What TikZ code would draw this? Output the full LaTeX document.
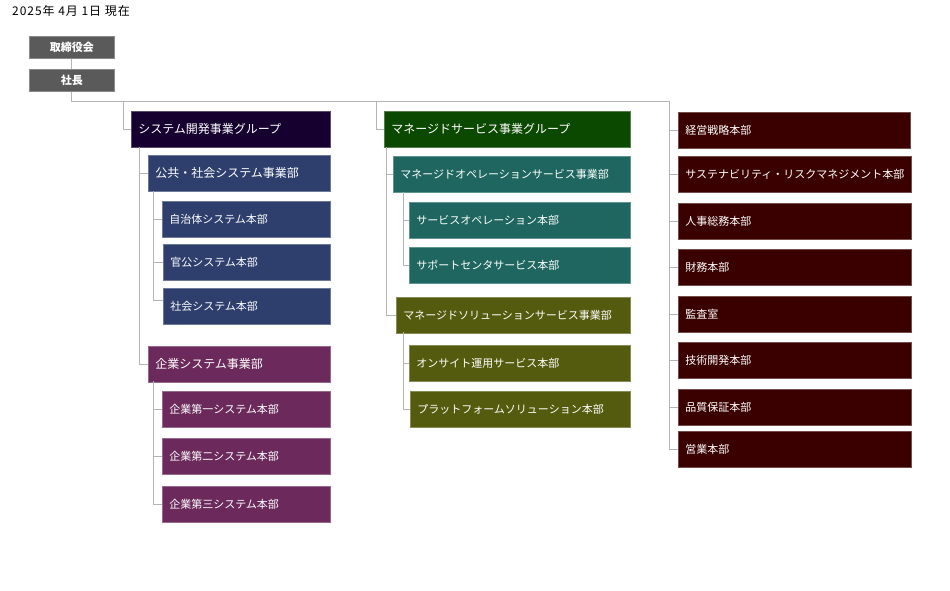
\documentclass[tikz,border=0pt]{standalone}
\usepackage{fontspec}
\setmainfont{Noto Sans CJK JP}
\definecolor{cgray}{HTML}{5A5A5A}
\definecolor{cgA}{HTML}{15002F}
\definecolor{cblue}{HTML}{2E3F6E}
\definecolor{cpurp}{HTML}{6B2A5B}
\definecolor{cgreen}{HTML}{0B4800}
\definecolor{cteal}{HTML}{1E665F}
\definecolor{colive}{HTML}{545B0E}
\definecolor{cred}{HTML}{3A0000}
\definecolor{cline}{HTML}{B4B4B4}
\tikzset{
  box/.style 2 args={anchor=north west, fill=#2, draw=#2!70!white, line width=0.6pt,
    text=white, minimum height=36pt, inner xsep=7pt, inner ysep=0pt,
    text width=#1, align=left},
  topbox/.style={anchor=north west, fill=cgray, draw=cgray!70!white, line width=0.6pt,
    text=white, minimum width=85pt, minimum height=22pt, inner sep=0pt,
    font=\bfseries\fontsize{11}{13}\selectfont},
  conn/.style={draw=cline, line width=1pt},
  fl/.style={font=\fontsize{12}{14}\selectfont},
  fs/.style={font=\fontsize{11}{13}\selectfont},
}
\begin{document}
\begin{tikzpicture}[x=1pt,y=-1pt]
\useasboundingbox (0,0) rectangle (950,591);
\node[anchor=north west, inner sep=0pt, font=\fontsize{12}{14}\selectfont\addfontfeature{LetterSpace=8}] (date) at (12,5.5) {2025年 4月 1日 現在};
% top
\node[topbox] (board) at (29,36) {取締役会};
\node[topbox] (pres) at (29,69) {社長};
% groups
\node[box={185pt}{cgA},fl] (g1) at (131,111) {システム開発事業グループ};
\node[box={168pt}{cblue},fl] (d1) at (148,155) {公共・社会システム事業部};
\node[box={154pt}{cblue},fs] (d1a) at (162,201) {自治体システム本部};
\node[box={153pt}{cblue},fs] (d1b) at (163,244) {官公システム本部};
\node[box={153pt}{cblue},fs] (d1c) at (163,288) {社会システム本部};
\node[box={168pt}{cpurp},fl] (d2) at (148,346) {企業システム事業部};
\node[box={154pt}{cpurp},fs] (d2a) at (162,391) {企業第一システム本部};
\node[box={154pt}{cpurp},fs] (d2b) at (162,438) {企業第二システム本部};
\node[box={154pt}{cpurp},fs] (d2c) at (162,486) {企業第三システム本部};
\node[box={232pt}{cgreen},fl] (g2) at (384,111) {マネージドサービス事業グループ};
\node[box={223pt}{cteal},fs] (d3) at (393,156) {マネージドオペレーションサービス事業部};
\node[box={207pt}{cteal},fs] (d3a) at (409,202) {サービスオペレーション本部};
\node[box={207pt}{cteal},fs] (d3b) at (409,247) {サポートセンタサービス本部};
\node[box={220pt}{colive},fs] (d4) at (396,297) {マネージドソリューションサービス事業部};
\node[box={207pt}{colive},fs] (d4a) at (409,345) {オンサイト運用サービス本部};
\node[box={206pt}{colive},fs] (d4b) at (410,391) {プラットフォームソリューション本部};
% right column
\node[box={218pt}{cred},fs] (r1) at (678,112) {経営戦略本部};
\node[box={219pt}{cred},fs] (r2) at (678,156) {サステナビリティ・リスクマネジメント本部};
\node[box={219pt}{cred},fs] (r3) at (678,203) {人事総務本部};
\node[box={219pt}{cred},fs] (r4) at (678,249) {財務本部};
\node[box={219pt}{cred},fs] (r5) at (678,296) {監査室};
\node[box={219pt}{cred},fs] (r6) at (678,342) {技術開発本部};
\node[box={219pt}{cred},fs] (r7) at (678,389) {品質保証本部};
\node[box={219pt}{cred},fs] (r8) at (678,431) {営業本部};
% connectors
\coordinate (bus) at (669,102);
\coordinate (b1) at (123,102);
\coordinate (b2) at (376,102);
\coordinate (s1) at (139,147);
\coordinate (s11) at (153,191);
\coordinate (s12) at (153,381);
\coordinate (s2) at (386,147);
\coordinate (s21) at (403,192);
\coordinate (s22) at (403,332);
\draw[conn] (board) -- (pres);
\draw[conn] (pres.south) |- (bus) |- (r8.west);
\foreach \n in {r1,r2,r3,r4,r5,r6,r7} \draw[conn] (bus |- \n.west) -- (\n.west);
\draw[conn] (b1) |- (g1.west);
\draw[conn] (b2) |- (g2.west);
\draw[conn] (s1) |- (d1.west);
\draw[conn] (s1) |- (d2.west);
\draw[conn] (s11) |- (d1a.west);
\draw[conn] (s11) |- (d1b.west);
\draw[conn] (s11) |- ([yshift=6pt]d1c.west);
\draw[conn] (s12) |- (d2a.west);
\draw[conn] (s12) |- (d2b.west);
\draw[conn] (s12) |- (d2c.west);
\draw[conn] (s2) |- (d3.west);
\draw[conn] (s2) |- (d4.west);
\draw[conn] (s21) |- (d3a.west);
\draw[conn] (s21) |- (d3b.west);
\draw[conn] (s22) |- (d4a.west);
\draw[conn] (s22) |- (d4b.west);
\end{tikzpicture}
\end{document}
